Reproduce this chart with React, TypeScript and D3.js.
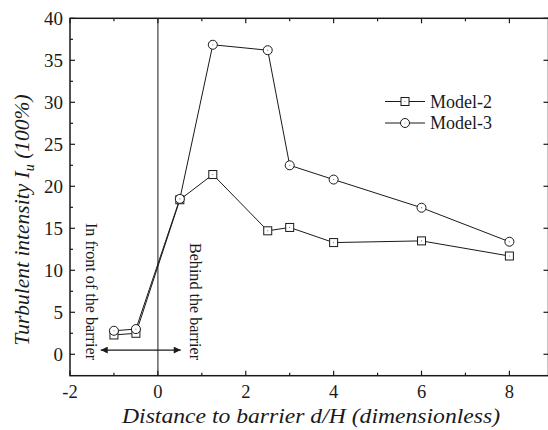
import React from "react";
import * as d3 from "d3";

const distance = [-1, -0.5, 0.5, 1.25, 2.5, 3, 4, 6, 8];
const model2 = [2.3, 2.5, 18.4, 21.4, 14.7, 15.1, 13.3, 13.5, 11.7];
const model3 = [2.8, 3.0, 18.5, 36.85, 36.2, 22.5, 20.8, 17.45, 13.4];
const seriesNames = ["Model-2", "Model-3"];
const xTicks = [-2, 0, 2, 4, 6, 8];
const yTicks = [0, 5, 10, 15, 20, 25, 30, 35, 40];

const W = 548;
const H = 430;
const FONT = "'Liberation Serif', 'Times New Roman', serif";
const INK = "#1a1a1a";

export default function App() {
  // right spine sits just past the visible edge
  const x = d3.scaleLinear().domain([-2, 8.89]).range([70, 548.5]);
  const y = d3.scaleLinear().domain([-2.55, 40]).range([375.7, 18.3]);
  const x0 = x.range()[0], x1 = x.range()[1];
  const y0 = y.range()[0], y1 = y.range()[1];

  const line = d3
    .line<[number, number]>()
    .x((d) => x(d[0]))
    .y((d) => y(d[1]));
  const pts2 = distance.map((d, i) => [d, model2[i]] as [number, number]);
  const pts3 = distance.map((d, i) => [d, model3[i]] as [number, number]);

  const xMinor = d3.range(-1, 9, 2);
  const yMinor = d3.range(2.5, 40, 5);

  const sq = 4;
  const cr = 4.5;

  const square = (cx: number, cy: number, key: string) => (
    <g key={key}>
      <rect x={cx - sq} y={cy - sq} width={sq * 2} height={sq * 2} fill="#fff" stroke={INK} strokeWidth={1} />
      <circle cx={cx} cy={cy} r={0.6} fill="#777" />
    </g>
  );
  const circ = (cx: number, cy: number, key: string) => (
    <g key={key}>
      <circle cx={cx} cy={cy} r={cr} fill="#fff" stroke={INK} strokeWidth={1} />
      <circle cx={cx} cy={cy} r={0.6} fill="#777" />
    </g>
  );

  const arrowY = y(0.5);
  const ax0 = x(-1.3), ax1 = x(0.52);

  return (
    <svg
      width={W}
      height={H}
      style={{ position: "absolute", left: 0, top: 0, background: "#fff" }}
      fontFamily={FONT}
    >
      <defs>
        <marker id="ah" viewBox="0 0 10 10" refX="10" refY="5" markerWidth="10" markerHeight="7" markerUnits="userSpaceOnUse" orient="auto-start-reverse">
          <path d="M0,0 L10,5 L0,10 z" fill={INK} />
        </marker>
      </defs>

      {/* barrier position */}
      <line x1={x(0)} x2={x(0)} y1={y1} y2={y0} stroke="#666" strokeWidth={1.5} />

      {/* frame */}
      <rect x={x0} y={y1} width={x1 - x0} height={y0 - y1} fill="none" stroke={INK} strokeWidth={1.5} />

      {/* x ticks */}
      {xTicks.map((t) => (
        <g key={"xt" + t}>
          <line x1={x(t)} x2={x(t)} y1={y0} y2={y0 - 5} stroke={INK} strokeWidth={1.2} />
          <line x1={x(t)} x2={x(t)} y1={y1} y2={y1 + 5} stroke={INK} strokeWidth={1.2} />
          <text x={x(t)} y={y0 + 22.5} textAnchor="middle" fontSize={18.5} fill={INK}>
            {t < 0 ? "-" + Math.abs(t) : t}
          </text>
        </g>
      ))}
      {xMinor.map((t) => (
        <g key={"xm" + t}>
          <line x1={x(t)} x2={x(t)} y1={y0} y2={y0 - 3} stroke={INK} strokeWidth={1.2} />
          <line x1={x(t)} x2={x(t)} y1={y1} y2={y1 + 3} stroke={INK} strokeWidth={1.2} />
        </g>
      ))}

      {/* y ticks */}
      {yTicks.map((t) => (
        <g key={"yt" + t}>
          <line x1={x0} x2={x0 + 5} y1={y(t)} y2={y(t)} stroke={INK} strokeWidth={1.2} />
          <line x1={x1} x2={x1 - 5} y1={y(t)} y2={y(t)} stroke={INK} strokeWidth={1.2} />
          <text x={x0 - 7} y={y(t)} dy="0.35em" textAnchor="end" fontSize={19} fill={INK}>
            {t}
          </text>
        </g>
      ))}
      {yMinor.map((t) => (
        <line key={"ym" + t} x1={x0} x2={x0 + 3} y1={y(t)} y2={y(t)} stroke={INK} strokeWidth={1.2} />
      ))}

      {/* series */}
      <path d={line(pts2) || ""} fill="none" stroke={INK} strokeWidth={1} />
      <path d={line(pts3) || ""} fill="none" stroke={INK} strokeWidth={1} />
      {pts2.map((p, i) => square(x(p[0]), y(p[1]), "s" + i))}
      {pts3.map((p, i) => circ(x(p[0]), y(p[1]), "c" + i))}

      {/* front / behind annotations */}
      <line x1={ax0} x2={ax1} y1={arrowY} y2={arrowY} stroke={INK} strokeWidth={1.2} markerStart="url(#ah)" markerEnd="url(#ah)" />
      <text transform="translate(91.5,223) rotate(90)" fontSize={16.5} fill={INK} dominantBaseline="central" textLength={137} lengthAdjust="spacingAndGlyphs">
        In front of the barrier
      </text>
      <text transform="translate(195,243) rotate(90)" fontSize={16.5} fill={INK} dominantBaseline="central" textLength={117} lengthAdjust="spacingAndGlyphs">
        Behind the barrier
      </text>

      {/* legend */}
      {seriesNames.map((name, i) => {
        const ly = 101.5 + i * 21.5;
        return (
          <g key={name}>
            <line x1={385} x2={425} y1={ly} y2={ly} stroke={INK} strokeWidth={1} />
            {i === 0 ? square(405, ly, "ls") : circ(405, ly, "lc")}
            <text x={430} y={ly} dy="0.35em" fontSize={18} fill={INK}>
              {name}
            </text>
          </g>
        );
      })}

      {/* axis titles */}
      <text x={122} y={423} fontSize={22} fontStyle="italic" fill={INK} textLength={378} lengthAdjust="spacingAndGlyphs">
        Distance to barrier d/H (dimensionless)
      </text>
      <text transform="translate(28.5,220) rotate(-90)" textAnchor="middle" fontSize={21.5} fontStyle="italic" fill={INK}>
        Turbulent intensity I
        <tspan fontSize={14} dy={5}>u</tspan>
        <tspan dy={-5}> (100%)</tspan>
      </text>
    </svg>
  );
}
